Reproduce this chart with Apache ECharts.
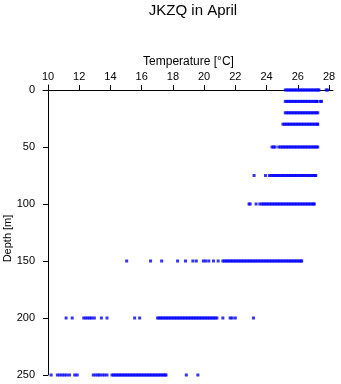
<!DOCTYPE html>
<html><head><meta charset="utf-8">
<script src="https://cdn.jsdelivr.net/npm/echarts@6/dist/echarts.min.js"></script>
<style>html,body{margin:0;padding:0;background:#fff}#c{width:341px;height:384px}</style>
</head><body><div id="c"></div>
<script>
var depths = [0, 10, 20, 30, 50, 75, 100, 150, 200, 250];
var xTicks = [10, 12, 14, 16, 18, 20, 22, 24, 26, 28];
var yTicks = [0, 50, 100, 150, 200, 250];
var t0 = [25.2,25.3,25.4,25.5,25.6,25.7,25.8,25.9,26.0,26.1,26.2,26.3,26.4,26.5,26.6,26.7,26.8,26.9,27.0,27.1,27.2,27.3,27.35,27.82,27.9];
var t10 = [25.2,25.3,25.4,25.5,25.6,25.7,25.8,25.9,26.0,26.1,26.2,26.3,26.4,26.5,26.6,26.7,26.8,26.9,27.0,27.1,27.2,27.25,27.45,27.52];
var t20 = [25.2,25.3,25.4,25.5,25.6,25.7,25.8,25.9,26.0,26.1,26.2,26.3,26.4,26.5,26.6,26.7,26.8,26.9,27.0,27.1,27.2,27.28];
var t30 = [25.05,25.15,25.25,25.35,25.45,25.55,25.65,25.75,25.85,25.95,26.05,26.15,26.25,26.35,26.45,26.55,26.65,26.75,26.85,26.95,27.05,27.15,27.25,27.28];
var t50 = [24.35,24.45,24.55,24.78,24.9,25.0,25.1,25.2,25.3,25.4,25.5,25.6,25.7,25.8,25.9,26.0,26.1,26.2,26.3,26.4,26.5,26.6,26.7,26.8,26.9,27.0,27.1,27.2,27.28];
var t75 = [23.2,23.93,24.18,24.3,24.4,24.5,24.6,24.7,24.8,24.9,25.0,25.1,25.2,25.3,25.4,25.5,25.6,25.7,25.8,25.9,26.0,26.1,26.2,26.3,26.4,26.5,26.6,26.7,26.8,26.9,27.0,27.1,27.15];
var t100 = [22.88,22.95,23.33,23.57,23.7,23.8,23.9,24.0,24.1,24.2,24.3,24.4,24.5,24.6,24.7,24.8,24.9,25.0,25.1,25.2,25.3,25.4,25.5,25.6,25.7,25.8,25.9,26.0,26.1,26.2,26.3,26.4,26.5,26.6,26.7,26.8,26.9,27.0,27.06];
var t150 = [15.04,16.57,17.28,18.3,18.81,19.28,19.5,19.95,20.1,20.3,20.6,20.9,21.2,21.3,21.4,21.5,21.6,21.7,21.8,21.9,22.0,22.1,22.2,22.3,22.4,22.5,22.6,22.7,22.8,22.9,23.0,23.1,23.2,23.3,23.4,23.5,23.6,23.7,23.8,23.9,24.0,24.1,24.2,24.3,24.4,24.5,24.6,24.7,24.8,24.9,25.0,25.1,25.2,25.3,25.4,25.5,25.6,25.7,25.8,25.9,26.0,26.1,26.2,26.25];
var t200 = [11.16,11.55,12.29,12.42,12.55,12.68,12.8,12.97,13.42,13.78,15.55,15.87,17.02,17.12,17.22,17.32,17.42,17.52,17.62,17.72,17.82,17.92,18.02,18.12,18.22,18.32,18.42,18.52,18.62,18.72,18.82,18.92,19.02,19.12,19.22,19.32,19.42,19.52,19.62,19.72,19.82,19.92,20.02,20.12,20.22,20.32,20.42,20.52,20.62,20.72,20.82,21.2,21.67,21.8,22.0,23.16];
var t250 = [10.2,10.6,10.75,10.9,11.05,11.2,11.38,11.71,11.87,12.9,13.05,13.2,13.31,13.47,13.62,13.78,14.1,14.2,14.3,14.4,14.5,14.6,14.7,14.8,14.9,15.0,15.1,15.2,15.3,15.4,15.5,15.6,15.7,15.8,15.9,16.0,16.1,16.2,16.3,16.4,16.5,16.6,16.7,16.8,16.9,17.0,17.1,17.2,17.3,17.4,17.5,17.56,18.86,19.6];
var temps = [t0, t10, t20, t30, t50, t75, t100, t150, t200, t250];

var points = [];
temps.forEach(function (arr, i) {
  arr.forEach(function (t) { points.push([t, depths[i]]); });
});

var FONT = 'Liberation Sans';
var chart = echarts.init(document.getElementById('c'), null, {renderer: 'canvas'});
chart.setOption({
  animation: false,
  backgroundColor: '#fff',
  title: {
    text: 'JKZQ in April', left: 188, top: -2, textAlign: 'center',
    textStyle: {fontSize: 15, fontWeight: 'normal', color: '#000', fontFamily: FONT}
  },
  grid: [
    {left: 48, right: 12, top: 90, bottom: 9, containLabel: false, outerBoundsMode: 'none'},
    {left: 43, right: 8, top: 90, bottom: 9, containLabel: false, outerBoundsMode: 'none'},
    {left: 48, right: 12, top: 85, bottom: 9, containLabel: false, outerBoundsMode: 'none'}
  ],
  xAxis: [
    {
      gridIndex: 0, type: 'value', position: 'top',
      min: xTicks[0], max: xTicks[xTicks.length - 1], interval: 2,
      name: 'Temperature [°C]', nameLocation: 'middle', nameGap: 22, nameMoveOverlap: false,
      nameTextStyle: {fontSize: 12, color: '#000', fontFamily: FONT},
      axisLine: {show: false, onZero: false},
      axisTick: {show: true, length: 5, lineStyle: {color: '#000'}},
      axisLabel: {fontSize: 11, color: '#000', fontFamily: FONT, margin: 8},
      splitLine: {show: false}
    },
    {
      gridIndex: 1, type: 'value', position: 'top', min: 0, max: 1,
      axisLine: {show: true, onZero: false, lineStyle: {color: '#000', width: 1}},
      axisTick: {show: false}, axisLabel: {show: false}, splitLine: {show: false}
    },
    {gridIndex: 2, type: 'value', show: false, min: 0, max: 1}
  ],
  yAxis: [
    {
      gridIndex: 0, type: 'value', inverse: true,
      min: yTicks[0], max: yTicks[yTicks.length - 1], interval: 50,
      name: 'Depth [m]', nameLocation: 'middle', nameGap: 35, nameMoveOverlap: false,
      nameTextStyle: {fontSize: 11, color: '#000', fontFamily: FONT, padding: [0, 12, 0, 0]},
      axisLine: {show: false, onZero: false},
      axisTick: {show: true, length: 5, lineStyle: {color: '#000'}},
      axisLabel: {fontSize: 11, color: '#000', fontFamily: FONT, margin: 13},
      splitLine: {show: false}
    },
    {gridIndex: 1, type: 'value', show: false, min: 0, max: 1},
    {
      gridIndex: 2, type: 'value', min: 0, max: 1,
      axisLine: {show: true, onZero: false, lineStyle: {color: '#000', width: 1}},
      axisTick: {show: false}, axisLabel: {show: false}, splitLine: {show: false}
    }
  ],
  series: [{
    type: 'scatter', xAxisIndex: 0, yAxisIndex: 0,
    symbol: 'rect', symbolSize: 3,
    itemStyle: {color: '#0000ff'},
    data: points
  }]
});
</script>
</body></html>
